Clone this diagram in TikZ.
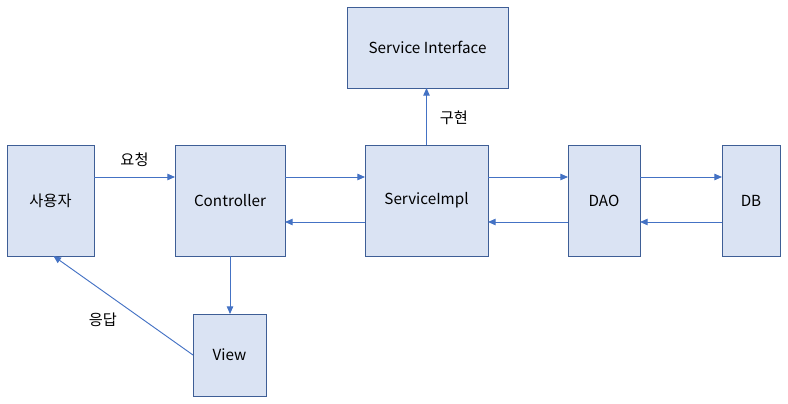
\documentclass[tikz,border=0pt]{standalone}
\usepackage{fontspec}
\setmainfont{Noto Sans CJK KR}
\usepackage{tikz}
\usetikzlibrary{arrows.meta}
\definecolor{boxfill}{HTML}{DAE3F3}
\definecolor{boxline}{HTML}{3E5E96}
\definecolor{linkblue}{HTML}{4472C4}
\tikzstyle{layer} = [rectangle,
					 minimum height=3.33cm,
					 inner sep=0pt,
					 outer sep=0pt,
					 text centered,
					 fill=boxfill,
					 draw=boxline,
					 line width=0.8pt,
					 font=\fontsize{13}{15}\selectfont,
					]
\tikzstyle{arrow} = [line width=0.8pt, draw=linkblue, ->, >={Triangle[length=6.5pt,width=5.5pt]}]
\tikzstyle{tag} = [font=\fontsize{13}{15}\selectfont, inner sep=1pt]

\begin{document}
\begin{tikzpicture}[x=0.03cm, y=-0.03cm]
\useasboundingbox (0,0) rectangle (788,404);

\node (user) [layer, minimum width=2.61cm] at (50.5,200.5) {사용자};
\node (ctrl) [layer, minimum width=3.3cm] at (230,200.5) {Controller};
\node (impl) [layer, minimum width=3.69cm] at (426.5,200.5) {ServiceImpl};
\node (dao) [layer, minimum width=2.16cm] at (604,200.5) {DAO};
\node (db) [layer, minimum width=1.74cm] at (751,200.5) {DB};
\node (iface) [layer, minimum width=4.83cm, minimum height=2.43cm] at (427.5,47.5) {Service Interface};
\node (view) [layer, minimum width=2.19cm, minimum height=2.46cm] at (229.5,355) {View};

%forward calls
\draw [arrow] (user.east |- 0,177) -- node[tag, above, yshift=7pt] (req) {요청} (ctrl.west |- 0,177);
\draw [arrow] (ctrl.east |- 0,177) -- (impl.west |- 0,177);
\draw [arrow] (impl.east |- 0,177) -- (dao.west |- 0,177);
\draw [arrow] (dao.east |- 0,177) -- (db.west |- 0,177);

%returns
\draw [arrow] (db.west |- 0,222) -- (dao.east |- 0,222);
\draw [arrow] (dao.west |- 0,222) -- (impl.east |- 0,222);
\draw [arrow] (impl.west |- 0,222) -- (ctrl.east |- 0,222);

\draw [arrow] (impl.north) -- node[tag, right, xshift=10pt, yshift=-1pt] (impl_lbl) {구현} (impl.north |- iface.south);
\draw [arrow] (ctrl.south) -- (ctrl.south |- view.north);
\draw [arrow] (view.west) -- node[tag, below left, xshift=-4pt, yshift=-5pt] (resp) {응답} ([xshift=2.5] user.south);

\end{tikzpicture}
\end{document}
